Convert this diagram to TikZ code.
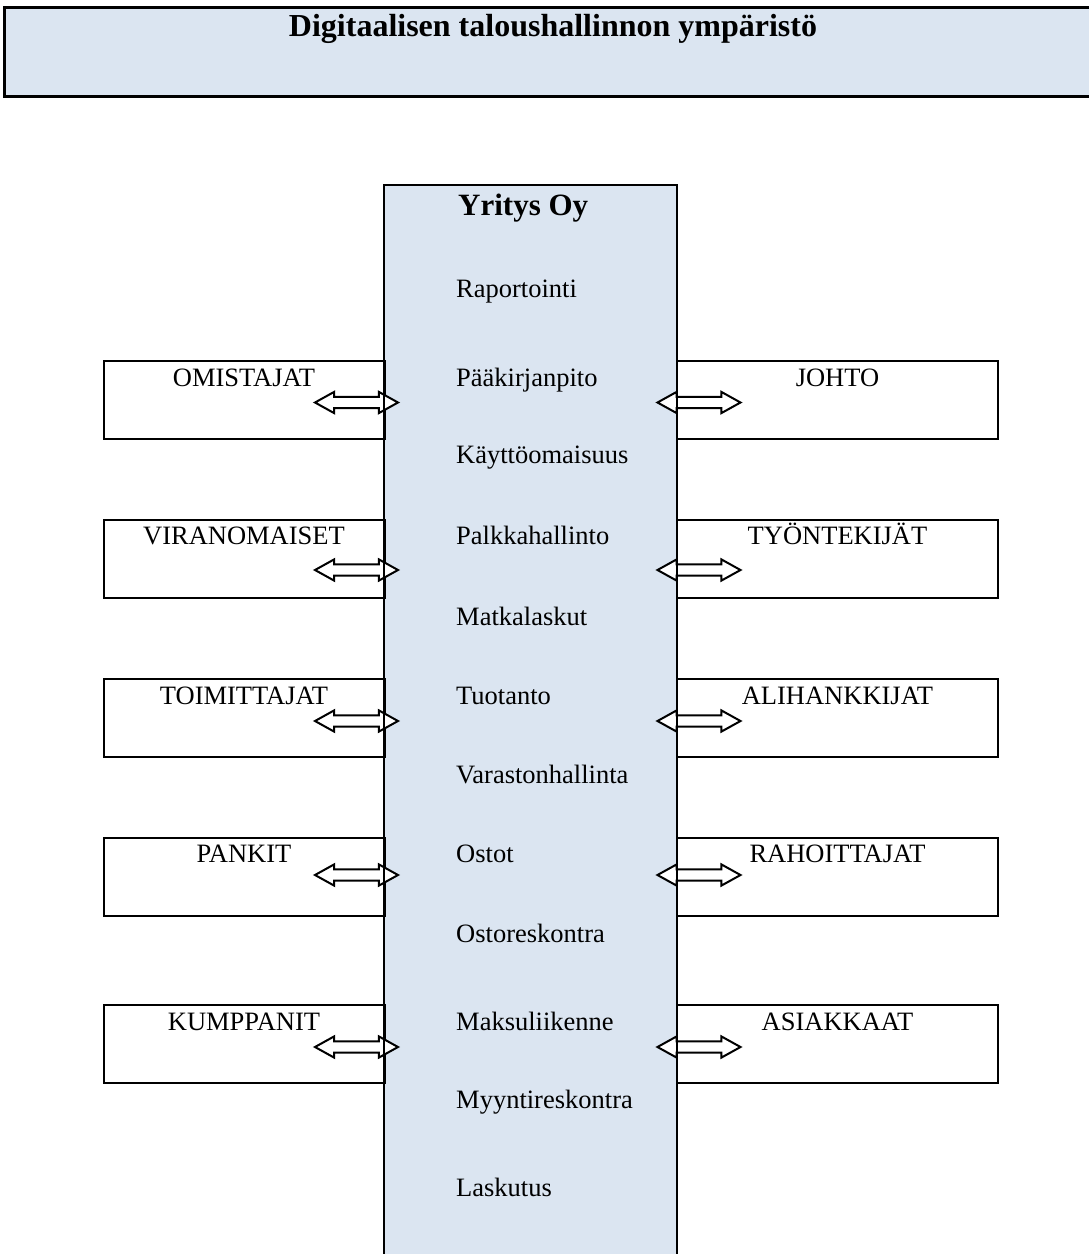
\documentclass[tikz,border=0pt]{standalone}
\usepackage{fontspec}
\setmainfont{Liberation Serif}
\usepackage{tikz}
\usetikzlibrary{positioning, shapes, shapes.arrows}
\definecolor{paneblue}{HTML}{DBE5F1}

\begin{document}
\begin{tikzpicture}[x=1pt, y=-1pt, font=\fontsize{26.5}{30}\selectfont,
  lbox/.style={draw, line width=2pt, minimum width=281pt, minimum height=78pt, inner sep=0pt, outer sep=0pt},
  rbox/.style={draw, line width=2pt, minimum width=321pt, minimum height=78pt, inner sep=0pt, outer sep=0pt},
  item/.style={anchor=base west, inner sep=0pt},
  boxlabel/.style={anchor=base, inner sep=0pt},
  twoway/.style={double arrow, draw, fill=white, line width=2pt, inner sep=4.6pt,
    minimum height=83pt, double arrow head extend=5pt, double arrow tip angle=58}]
\useasboundingbox (0, 0) rectangle (1089, 1254);

% otsikko
\node[fill=paneblue, draw, line width=3pt, minimum width=1120pt, minimum height=89pt] (banner) at (564, 51.5) {};
\node[anchor=base, inner sep=0pt, font=\fontsize{32}{36}\selectfont\bfseries] (title) at (553, 36) {Digitaalisen taloushallinnon ympäristö};

% yritys
\node[fill=paneblue, minimum width=293pt, minimum height=1130pt, inner sep=0pt, outer sep=0pt] (yritys) at (530.5, 750) {};

\node[lbox] (omistajat) at (244, 400) {};
\node[lbox] (viranomaiset) at (244, 559) {};
\node[lbox] (toimittajat) at (244, 718) {};
\node[lbox] (pankit) at (244, 876.5) {};
\node[lbox] (kumppanit) at (244, 1044) {};

\node[rbox] (johto) at (837.5, 400) {};
\node[rbox] (tyontekijat) at (837.5, 559) {};
\node[rbox] (alihankkijat) at (837.5, 718) {};
\node[rbox] (rahoittajat) at (837.5, 876.5) {};
\node[rbox] (asiakkaat) at (837.5, 1044) {};

\node[boxlabel] (omistajat-t) at (244, 386) {OMISTAJAT};
\node[boxlabel] (viranomaiset-t) at (244, 544) {VIRANOMAISET};
\node[boxlabel] (toimittajat-t) at (244, 704) {TOIMITTAJAT};
\node[boxlabel] (pankit-t) at (244, 862) {PANKIT};
\node[boxlabel] (kumppanit-t) at (244, 1030) {KUMPPANIT};

\node[boxlabel] (johto-t) at (837.5, 386) {JOHTO};
\node[boxlabel] (tyontekijat-t) at (837.5, 544) {TYÖNTEKIJÄT};
\node[boxlabel] (alihankkijat-t) at (837.5, 704) {ALIHANKKIJAT};
\node[boxlabel] (rahoittajat-t) at (837.5, 862) {RAHOITTAJAT};
\node[boxlabel] (asiakkaat-t) at (837.5, 1030) {ASIAKKAAT};

% nuolet
\node[twoway] (omistajat-a) at (356.5, 402.5) {};
\node[twoway] (viranomaiset-a) at (356.5, 570) {};
\node[twoway] (toimittajat-a) at (356.5, 721) {};
\node[twoway] (pankit-a) at (356.5, 875) {};
\node[twoway] (kumppanit-a) at (356.5, 1047) {};

\node[twoway] (johto-a) at (699, 402.5) {};
\node[twoway] (tyontekijat-a) at (699, 570) {};
\node[twoway] (alihankkijat-a) at (699, 721) {};
\node[twoway] (rahoittajat-a) at (699, 875) {};
\node[twoway] (asiakkaat-a) at (699, 1047) {};

\draw[line width=2.8pt] (yritys.south west) -- (yritys.north west) -- (yritys.north east) -- (yritys.south east);

\node[item, font=\fontsize{31}{34}\selectfont\bfseries] (yhtio) at (458, 215) {Yritys Oy};
\node[item] (raportointi) at (456, 297) {Raportointi};
\node[item] (paakirjanpito) at (456, 386) {Pääkirjanpito};
\node[item] (kayttoomaisuus) at (456, 463) {Käyttöomaisuus};
\node[item] (palkkahallinto) at (456, 544) {Palkkahallinto};
\node[item] (matkalaskut) at (456, 625) {Matkalaskut};
\node[item] (tuotanto) at (456, 704) {Tuotanto};
\node[item] (varastonhallinta) at (456, 783) {Varastonhallinta};
\node[item] (ostot) at (456, 862) {Ostot};
\node[item] (ostoreskontra) at (456, 942) {Ostoreskontra};
\node[item] (maksuliikenne) at (456, 1030) {Maksuliikenne};
\node[item] (myyntireskontra) at (456, 1108) {Myyntireskontra};
\node[item] (laskutus) at (456, 1196) {Laskutus};
\end{tikzpicture}
\end{document}
